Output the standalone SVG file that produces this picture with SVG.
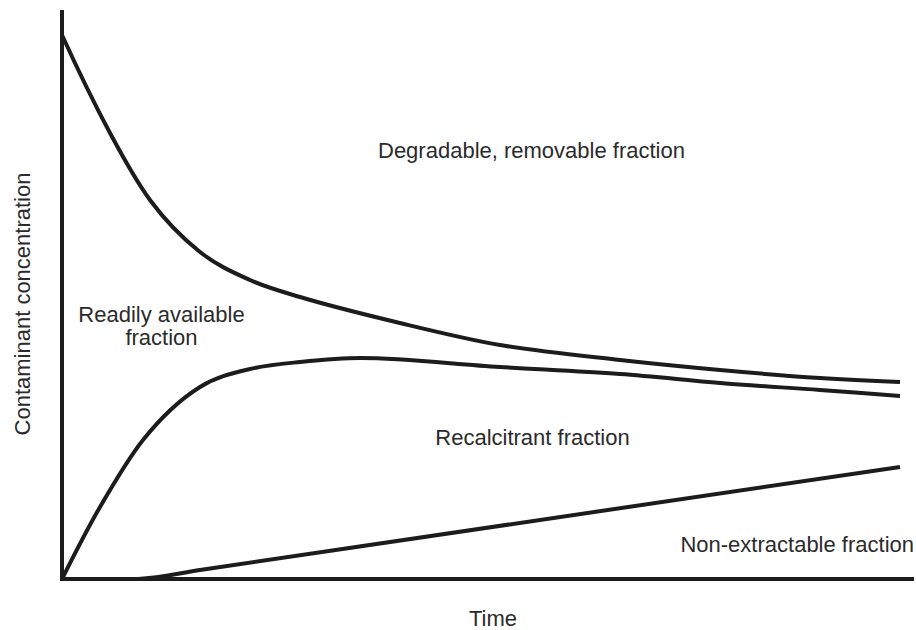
<svg xmlns="http://www.w3.org/2000/svg" width="916" height="630" viewBox="0 0 916 630">
<style>
.ln{fill:none;stroke:#1c1c1c;stroke-width:4;stroke-linecap:butt;stroke-linejoin:round}
.ax{fill:none;stroke:#1c1c1c;stroke-width:4}
.t{font-family:"Liberation Sans",Arial,sans-serif;font-size:22px;fill:#2b2b2b}
</style>
<rect width="916" height="630" fill="#ffffff"/>
<g id="axes">
<line class="ax" x1="62" y1="10" x2="62" y2="581"/>
<line class="ax" x1="60" y1="579" x2="914" y2="579"/>
<text class="t" x="493" y="626" text-anchor="middle">Time</text>
<text class="t" transform="translate(30,304) rotate(-90)" text-anchor="middle">Contaminant concentration</text>
</g>
<g id="curves">
<path id="top-curve" class="ln" d="M62,35 C78,70.2 94,103.2 110,133 C123.3,157.8 136.7,181.9 150,200 C166.7,222.7 183.3,238.7 200,252 C216.7,265.3 233.3,272.5 250,280 C266.7,287.5 283.3,292 300,297 C333.3,307 366.7,315 400,323 C433.3,331 466.7,339.3 500,345 C540,351.8 580,355.5 620,360 C653.3,363.7 686.7,367 720,370 C753.3,373 786.7,375.8 820,378 C846.7,379.7 873.3,380.9 900,382"/>
<path id="middle-curve" class="ln" d="M62,579 C74.7,553.7 87.3,528.8 100,507 C114.3,482.4 128.7,457.9 143,440 C162,416.25 181,398.8 200,387 C216.7,376.7 233.3,373 250,369 C266.7,365 283.3,363.7 300,362 C320,360 340,358 360,358 C406.7,358 453.3,364.2 500,367 C540,369.4 580,371.2 620,374 C653.3,376.3 686.7,380.3 720,383 C753.3,385.7 786.7,387.6 820,390 C846.7,391.9 873.3,394 900,396"/>
<path id="bottom-line" class="ln" d="M138,579 C160,578 180,573 200,570 L900,467"/>
</g>
<g id="label-degradable"><text class="t" x="378" y="158">Degradable, removable fraction</text></g>
<g id="label-readily"><text class="t" x="161.5" y="322" text-anchor="middle">Readily available</text><text class="t" x="161.5" y="345" text-anchor="middle">fraction</text></g>
<g id="label-recalcitrant"><text class="t" x="532.5" y="445" text-anchor="middle">Recalcitrant fraction</text></g>
<g id="label-nonextractable"><text class="t" x="914" y="552" text-anchor="end">Non-extractable fraction</text></g>
</svg>
